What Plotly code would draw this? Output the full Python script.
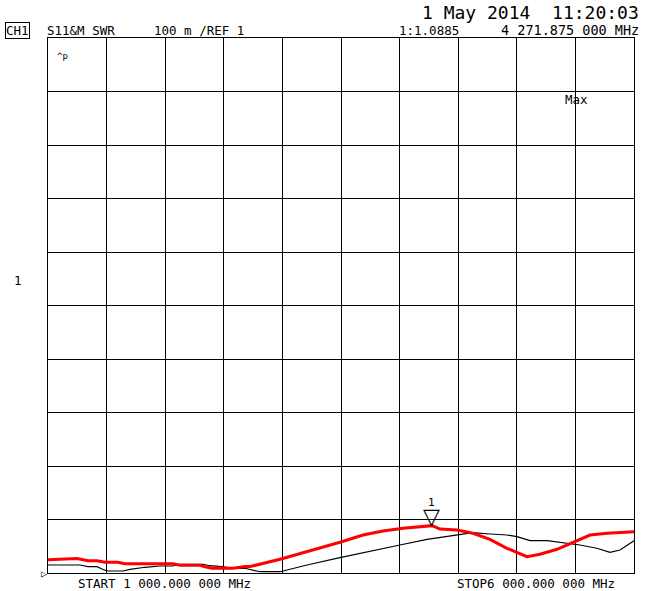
import plotly.graph_objects as go

# sweep: 1000 - 6000 MHz, SWR scale 100 m/div, ref 1 at bottom
start_mhz = 1000
stop_mhz = 6000
ref_value = 1.0
scale_per_div = 0.1

# red trace (memory)
red_freq = [1000, 1154, 1247, 1341, 1418, 1486, 1597, 1657, 2067, 2126, 2297, 2340, 2399,
            2578, 2681, 2724, 2980, 3491, 3688, 3858, 4029, 4276, 4345, 4490, 4626, 4771,
            4916, 5087, 5198, 5343, 5480, 5625, 5770, 5906, 6000]
red_swr = [1.025, 1.027, 1.027, 1.023, 1.023, 1.020, 1.020, 1.0174, 1.0174, 1.0144, 1.0144,
           1.0118, 1.0088, 1.0088, 1.0121, 1.012, 1.0256, 1.0574, 1.071, 1.0785, 1.0836,
           1.0885, 1.0822, 1.0804, 1.0742, 1.063, 1.0462, 1.0305, 1.035, 1.0443, 1.0574,
           1.071, 1.0742, 1.0753, 1.0772]

# black trace (data)
black_freq = [1000, 1273, 1341, 1418, 1461, 1503, 1640, 1700, 1828, 1956, 2067, 2126, 2323,
              2382, 2485, 2578, 2681, 2809, 2980, 3210, 3491, 3722, 4003, 4234, 4345, 4430,
              4490, 4626, 4771, 4916, 5002, 5113, 5258, 5394, 5539, 5684, 5795, 5880, 6000]
black_swr = [1.015, 1.015, 1.0118, 1.0118, 1.0075, 1.0037, 1.0037, 1.0069, 1.0107, 1.0131,
             1.0131, 1.0163, 1.0163, 1.0136, 1.0118, 1.0088, 1.0088, 1.0024, 1.0024, 1.015,
             1.0286, 1.0398, 1.0523, 1.063, 1.0667, 1.0692, 1.071, 1.0753, 1.0729, 1.071,
             1.0679, 1.0604, 1.0604, 1.0566, 1.0523, 1.0462, 1.0387, 1.043, 1.0604]

marker_freq = 4271.875
marker_swr = 1.0885

W, H = 650, 591
L, R, T, B = 48, 16, 38, 18
FONT = "DejaVu Sans Mono"


def px(x):
    return (x - L) / (W - L - R)


def py(y):
    return (H - B - y) / (H - T - B)


fig = go.Figure()
fig.add_trace(go.Scatter(x=black_freq, y=black_swr, mode='lines',
                         line=dict(color='black', width=1.2), hoverinfo='skip'))
fig.add_trace(go.Scatter(x=red_freq, y=red_swr, mode='lines',
                         line=dict(color='#ff0000', width=3), hoverinfo='skip'))

annotations = []


def label(text, x, y, size=12.5, xanchor='left', yanchor='middle', **kw):
    annotations.append(dict(text=text, x=px(x), y=py(y), xref='paper', yref='paper',
                            xanchor=xanchor, yanchor=yanchor, showarrow=False,
                            font=dict(family=FONT, size=size, color='black'), **kw))


label("1 May 2014  11:20:03", 641, 12, size=18, xanchor='right')
label("CH1", 5, 30, bordercolor='black', borderwidth=1, borderpad=0)
label("S11&M SWR", 45, 30)
label("100 m /REF 1", 152, 30)
label("1:1.0885", 397, 30)
label("4 271.875 000 MHz", 641, 30, size=13.5, xanchor='right')
label("^p", 55, 56, size=9)
label("Max", 563, 100)
label("1", 12, 280)
label("START 1 000.000 000 MHz", 76, 583)
label("STOP6 000.000 000 MHz", 455, 583)
label("▷", 49, 573, size=10, xanchor='right')

# marker 1 with down triangle
annotations.append(dict(text="▽", x=marker_freq, y=marker_swr, xref='x', yref='y',
                        xanchor='center', yanchor='bottom', showarrow=False, yshift=-5,
                        font=dict(family="DejaVu Sans", size=22, color='black')))
annotations.append(dict(text="1", x=marker_freq, y=marker_swr, xref='x', yref='y',
                        xanchor='center', yanchor='bottom', showarrow=False, yshift=15,
                        font=dict(family=FONT, size=11, color='black')))

fig.update_layout(
    width=W, height=H,
    margin=dict(l=L, r=R, t=T, b=B),
    paper_bgcolor='white', plot_bgcolor='white',
    showlegend=False,
    annotations=annotations,
    xaxis=dict(range=[start_mhz, stop_mhz], dtick=500, tick0=start_mhz,
               showgrid=True, gridcolor='black', gridwidth=1,
               showline=True, linecolor='black', linewidth=1, mirror=True,
               showticklabels=False, ticks='', zeroline=False, fixedrange=True),
    yaxis=dict(range=[ref_value, ref_value + 10 * scale_per_div], dtick=scale_per_div,
               tick0=ref_value,
               showgrid=True, gridcolor='black', gridwidth=1,
               showline=True, linecolor='black', linewidth=1, mirror=True,
               showticklabels=False, ticks='', zeroline=False, fixedrange=True),
)

fig.write_html("out.html", config={'displayModeBar': False},
               post_script="document.body.style.margin='0';document.body.style.overflow='hidden';")
